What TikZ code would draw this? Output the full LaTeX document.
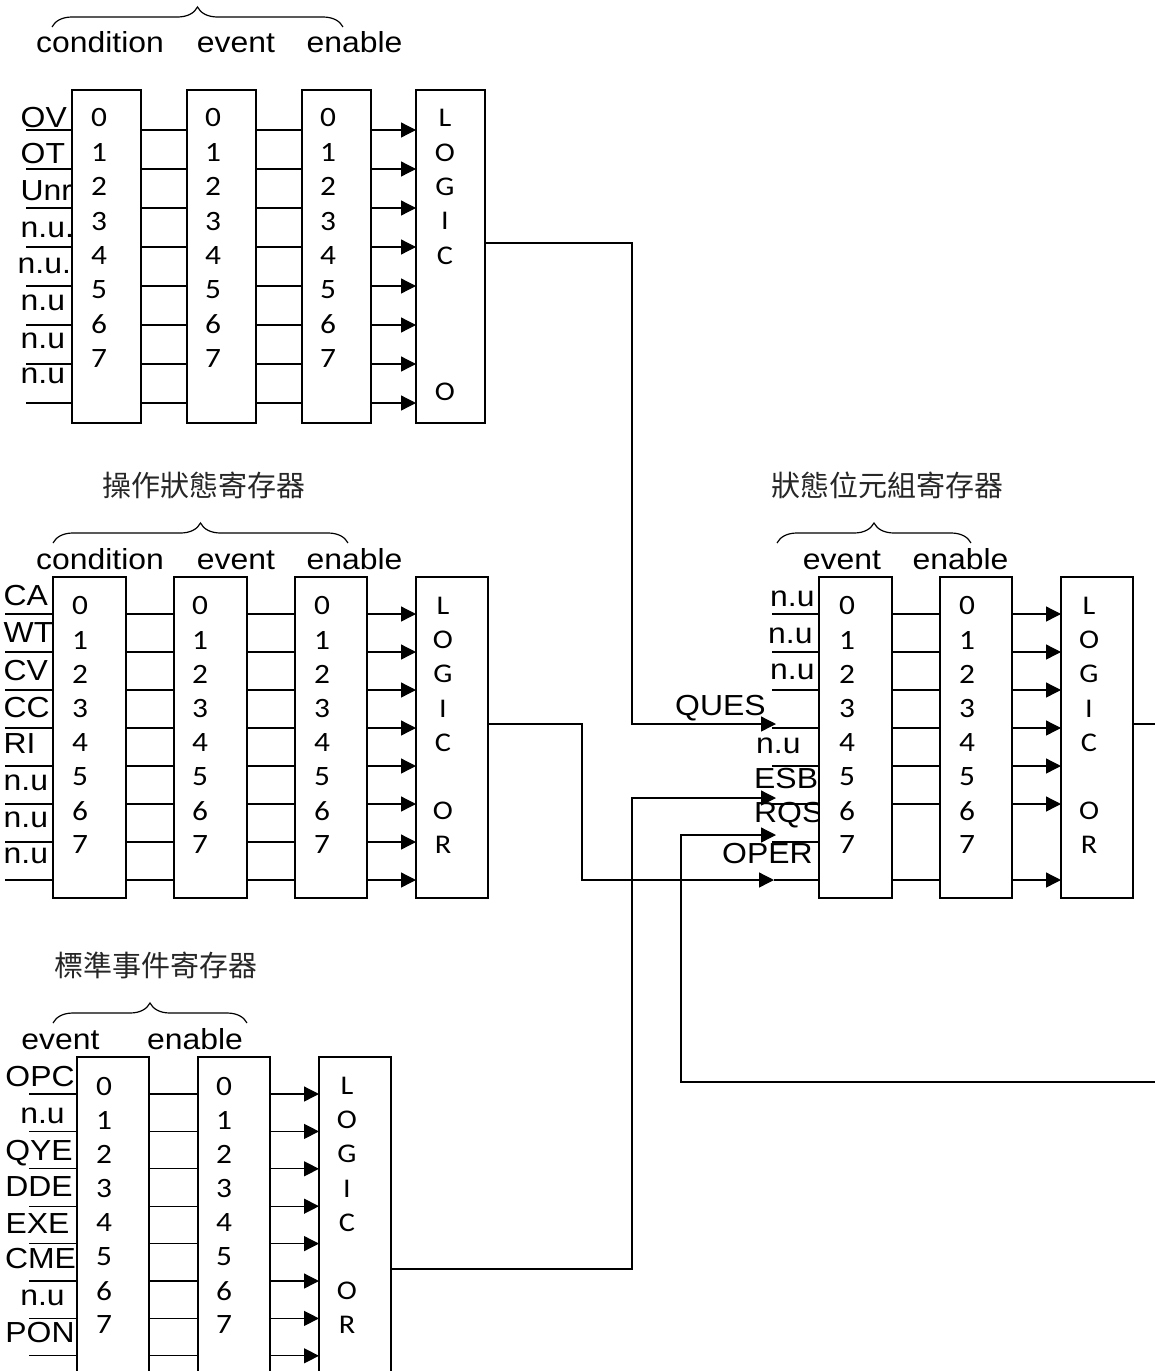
\documentclass[tikz,border=0pt]{standalone}
\usepackage{fontspec}
\setmainfont{Liberation Sans}[FakeStretch=1.1]
\newfontfamily\digfam{Carlito}[FakeStretch=1.12]
\newfontfamily\cjk{Noto Sans CJK TC}
\usetikzlibrary{arrows.meta,decorations.pathreplacing}
\newcommand\lblfont{\fontsize{29}{32}\selectfont}
\newcommand\digfont{\digfam\fontsize{28}{30}\selectfont}
\newcommand\logfont{\digfam\fontsize{27}{29}\selectfont}
\newcommand\titfont{\cjk\fontsize{29}{32}\selectfont}
\begin{document}
\begin{tikzpicture}[x=1pt,y=-1pt,
  reg/.style={draw,line width=1.6pt,fill=white,inner sep=0pt,outer sep=0pt,anchor=north west},
  wire/.style={line width=1.3pt},
  arr/.style={wire,-{Triangle[length=15pt,width=15pt]}},
  lbl/.style={font=\lblfont,inner sep=0pt,anchor=base west},
  lblc/.style={font=\lblfont,inner sep=0pt,anchor=base},
  hdr/.style={font=\lblfont,inner sep=0pt,anchor=base},
  dig/.style={font=\digfont,inner sep=0pt},
  lgc/.style={font=\logfont,inner sep=0pt},
  tit/.style={font=\titfont,inner sep=0pt,text=black!85},
  brc/.style={decorate,decoration={brace,amplitude=20pt},line width=1.2pt}]
\useasboundingbox (0,0) rectangle (1155,1371);
\clip (0,0) rectangle (1155,1371);

% ---------- row coordinates ----------
\foreach \i in {0,...,7} {
  \coordinate (T\i) at (0,{130+39*\i});
  \coordinate (M\i) at (0,{614+38*\i});
  \coordinate (B\i) at (0,{1094+37.4*\i});
}
\coordinate (TL) at (26,0);
\coordinate (ML) at (5,0);
\coordinate (BL) at (29,0);
\coordinate (SL) at (772,0);

% ---------- titles ----------
\node[tit] (t1) at (203.5,485) {操作狀態寄存器};
\node[tit] (t2) at (155.5,965) {標準事件寄存器};
\node[tit] (t3) at (887.5,485) {狀態位元組寄存器};

% ---------- braces ----------
\coordinate (tba) at (52,27);   \coordinate (tbb) at (343,27);
\coordinate (mba) at (53,543);  \coordinate (mbb) at (348,543);
\coordinate (bba) at (53,1023); \coordinate (bbb) at (247,1023);
\coordinate (sba) at (777,543); \coordinate (sbb) at (971,543);
\draw[brc] (tba) -- (tbb);
\draw[brc] (mba) -- (mbb);
\draw[brc] (bba) -- (bbb);
\draw[brc] (sba) -- (sbb);

% ---------- headers ----------
\node[hdr] (h1) at (100,52) {condition};
\node[hdr] (h2) at (236,52) {event};
\node[hdr] (h3) at (354.5,52) {enable};
\node[hdr] (h4) at (100,569) {condition};
\node[hdr] (h5) at (236,569) {event};
\node[hdr] (h6) at (354.5,569) {enable};
\node[hdr] (h7) at (60.5,1049) {event};
\node[hdr] (h8) at (195,1049) {enable};
\node[hdr] (h9) at (842,569) {event};
\node[hdr] (h10) at (960.5,569) {enable};

% ---------- input labels ----------
\node[lbl] (lt0) at (20.5,127) {OV};
\node[lbl] (lt1) at (20.5,163) {OT};
\node[lbl] (lt2) at (20.5,200) {Unr};
\node[lbl] (lt3) at (20.5,237) {n.u.};
\node[lbl] (lt4) at (17.5,273) {n.u.};
\node[lbl] (lt5) at (20.5,310) {n.u};
\node[lbl] (lt6) at (20.5,348) {n.u};
\node[lbl] (lt7) at (20.5,383) {n.u};

\node[lbl] (lm0) at (3.5,605) {CA};
\node[lbl] (lm1) at (3.5,642) {WT};
\node[lbl] (lm2) at (3.5,680) {CV};
\node[lbl] (lm3) at (3.5,717) {CC};
\node[lbl] (lm4) at (3.5,753) {RI};
\node[lbl] (lm5) at (3.5,790) {n.u};
\node[lbl] (lm6) at (3.5,827) {n.u};
\node[lbl] (lm7) at (3.5,863) {n.u};

\node[lblc] (lb0) at (40,1086) {OPC};
\node[lblc] (lb1) at (42.5,1123) {n.u};
\node[lblc] (lb2) at (39,1160) {QYE};
\node[lblc] (lb3) at (39,1196) {DDE};
\node[lblc] (lb4) at (37.5,1233) {EXE};
\node[lblc] (lb5) at (40.5,1268) {CME};
\node[lblc] (lb6) at (42.5,1305) {n.u};
\node[lblc] (lb7) at (40,1342) {PON};

\node[lbl] (ls0) at (770,606) {n.u};
\node[lbl] (ls1) at (768,643) {n.u};
\node[lbl] (ls2) at (770,679) {n.u};
\node[lbl] (ls3) at (675,715) {QUES};
\node[lbl] (ls4) at (756,753) {n.u};
\node[lbl] (ls5) at (754,788) {ESB};
\node[lbl] (ls6) at (754,822) {RQS};
\node[lbl] (ls7) at (722,863) {OPER};

% ---------- register boxes ----------
\node[reg,minimum width=69pt,minimum height=333pt] (tc) at (72,90) {};
\node[reg,minimum width=69pt,minimum height=333pt] (te) at (187,90) {};
\node[reg,minimum width=69pt,minimum height=333pt] (tn) at (302,90) {};
\node[reg,minimum width=69pt,minimum height=333pt] (tl) at (416,90) {};

\node[reg,minimum width=73pt,minimum height=321pt] (mc) at (53,577) {};
\node[reg,minimum width=73pt,minimum height=321pt] (me) at (174,577) {};
\node[reg,minimum width=72pt,minimum height=321pt] (mn) at (295,577) {};
\node[reg,minimum width=72pt,minimum height=321pt] (ml) at (416,577) {};

\node[reg,minimum width=73pt,minimum height=321pt] (se) at (819,577) {};
\node[reg,minimum width=72pt,minimum height=321pt] (sn) at (940,577) {};
\node[reg,minimum width=72pt,minimum height=321pt] (sl) at (1061,577) {};

\node[reg,minimum width=72pt,minimum height=340pt] (be) at (77,1057) {};
\node[reg,minimum width=72pt,minimum height=340pt] (bn) at (198,1057) {};
\node[reg,minimum width=72pt,minimum height=340pt] (bl) at (319,1057) {};

% ---------- bit wires ----------
\foreach \i in {0,...,7} {
  \draw[wire] (TL |- T\i) -- (tc.west |- T\i);
  \draw[wire] (tc.east |- T\i) -- (te.west |- T\i);
  \draw[wire] (te.east |- T\i) -- (tn.west |- T\i);
  \draw[arr] (tn.east |- T\i) -- (tl.west |- T\i);
  \draw[wire] (ML |- M\i) -- (mc.west |- M\i);
  \draw[wire] (mc.east |- M\i) -- (me.west |- M\i);
  \draw[wire] (me.east |- M\i) -- (mn.west |- M\i);
  \draw[arr] (mn.east |- M\i) -- (ml.west |- M\i);
  \draw[wire] (BL |- B\i) -- (be.west |- B\i);
  \draw[wire] (be.east |- B\i) -- (bn.west |- B\i);
  \draw[arr] (bn.east |- B\i) -- (bl.west |- B\i);
}
\foreach \i in {0,...,6} {
  \draw[wire] (SL |- M\i) -- (se.west |- M\i);
}
\foreach \i in {0,1,2,3,4,5,7} {
  \draw[wire] (se.east |- M\i) -- (sn.west |- M\i);
  \draw[arr] (sn.east |- M\i) -- (sl.west |- M\i);
}

% ---------- digits ----------
\foreach \i in {0,...,7} {
  \node[dig] (tcd\i) at (99,{118+34.4*\i}) {\i};
  \node[dig] (ted\i) at (213,{118+34.4*\i}) {\i};
  \node[dig] (tnd\i) at (328,{118+34.4*\i}) {\i};
  \node[dig] (mcd\i) at (80,{606+34.14*\i}) {\i};
  \node[dig] (med\i) at (200,{606+34.14*\i}) {\i};
  \node[dig] (mnd\i) at (322,{606+34.14*\i}) {\i};
  \node[dig] (sed\i) at (847,{606+34.14*\i}) {\i};
  \node[dig] (snd\i) at (967,{606+34.14*\i}) {\i};
  \node[dig] (bed\i) at (104,{1086+34.14*\i}) {\i};
  \node[dig] (bnd\i) at (224,{1086+34.14*\i}) {\i};
}

% ---------- LOGIC OR letters ----------
\foreach \c/\i in {L/0,O/1,G/2,I/3,C/4} {
  \node[lgc] (tlg\i) at (445,{118+34.4*\i}) {\c};
}
\node[lgc] (tlg8) at (445,392) {O};
\foreach \c/\i in {L/0,O/1,G/2,I/3,C/4,O/6,R/7} {
  \node[lgc] (mlg\i) at (443,{606+34.14*\i}) {\c};
  \node[lgc] (slg\i) at (1089,{606+34.14*\i}) {\c};
  \node[lgc] (blg\i) at (347,{1086+34.14*\i}) {\c};
}

% ---------- summary connections ----------
\coordinate (TO) at (0,243);
\coordinate (MO) at (0,724);
\coordinate (BO) at (0,1269);
\coordinate (jq) at (632,724);   \coordinate (ques) at (776,724);
\coordinate (jo) at (582,880);   \coordinate (oper) at (774,880);
\coordinate (je) at (632,798);   \coordinate (esb) at (776,798);
\coordinate (redge) at (1160,1082); \coordinate (rb) at (681,1082);
\coordinate (rqs) at (776,835);
\coordinate (sout) at (1160,724);

\draw[arr] (tl.east |- TO) -| (jq) -- (ques);
\draw[arr] (ml.east |- MO) -| (jo) -- (oper);
\draw[wire] (oper) -- (se.west |- M7);
\draw[arr] (bl.east |- BO) -| (je) -- (esb);
\draw[arr] (redge) -- (rb) |- (rqs);
\draw[wire] (sl.east |- MO) -- (sout);
\end{tikzpicture}
\end{document}
